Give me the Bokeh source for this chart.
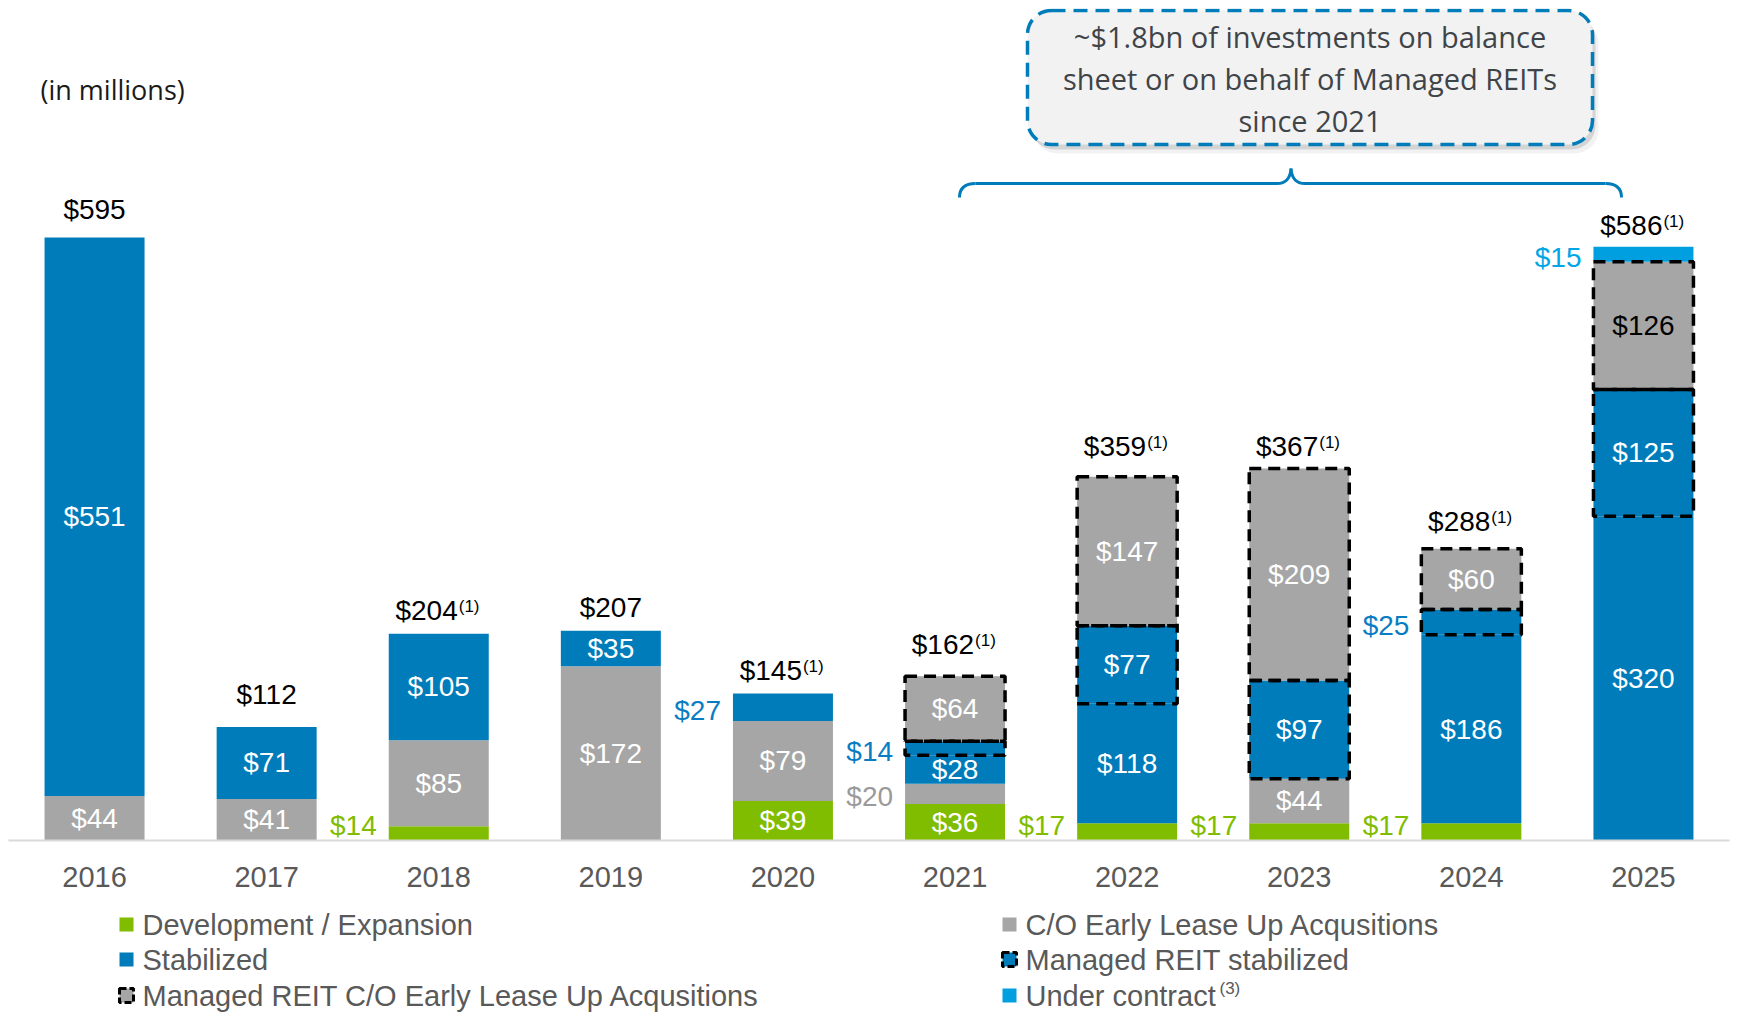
from bokeh.plotting import figure
from bokeh.models import Range1d, FixedTicker, BoxAnnotation, ColumnDataSource
from bokeh.layouts import column
from bokeh.core.properties import value
from bokeh.embed import file_html
from bokeh.resources import INLINE

# ---------------- data ----------------
years = ["2016", "2017", "2018", "2019", "2020", "2021", "2022", "2023", "2024", "2025"]
development = [0, 0, 14, 0, 39, 36, 17, 17, 17, 0]
co_early_lease_up = [44, 41, 85, 172, 79, 20, 0, 44, 0, 0]
stabilized = [551, 71, 105, 35, 27, 28, 118, 0, 186, 320]
managed_reit_stabilized = [0, 0, 0, 0, 0, 14, 77, 97, 25, 125]
managed_reit_co = [0, 0, 0, 0, 0, 64, 147, 209, 60, 126]
under_contract = [0, 0, 0, 0, 0, 0, 0, 0, 0, 15]
totals = [595, 112, 204, 207, 145, 162, 359, 367, 288, 586]
total_notes = ["", "", "(1)", "", "(1)", "(1)", "(1)", "(1)", "(1)", "(1)"]

legend_col1 = ["Development / Expansion", "Stabilized", "Managed REIT C/O Early Lease Up Acqusitions"]
legend_col2 = ["C/O Early Lease Up Acqusitions", "Managed REIT stabilized", "Under contract"]
callout_lines = ["~$1.8bn of investments on balance", "sheet or on behalf of Managed REITs", "since 2021"]
unit_note = "(in millions)"

# ---------------- style ----------------
GREEN = "#80BC00"
GRAY = "#A6A6A6"
BLUE = "#007CBA"
LBLUE = "#00A0E0"
LBL_BLUE = "#0A7DC2"
LBL_GRAY = "#9A9A9A"
LBL_LBLUE = "#00A6E6"
TXT = "#595959"
FONT = "Liberation Sans"

series = [
    ("dev", development, GREEN, False, GREEN),
    ("co", co_early_lease_up, GRAY, False, LBL_GRAY),
    ("stab", stabilized, BLUE, False, LBL_BLUE),
    ("mstab", managed_reit_stabilized, BLUE, True, LBL_BLUE),
    ("mco", managed_reit_co, GRAY, True, LBL_GRAY),
    ("uc", under_contract, LBLUE, False, LBL_LBLUE),
]
outside = {("2018", "dev"), ("2020", "stab"), ("2021", "co"), ("2021", "mstab"),
           ("2022", "dev"), ("2023", "dev"), ("2024", "dev"), ("2024", "mstab"),
           ("2025", "uc")}
dark_inside = {("2025", "mco")}
total_gap = [28, 32, 23, 23, 23, 32, 30, 22, 27, 21]

PAGE_W = 1737
PAD = 8
FRAME_W = PAGE_W - 2 * PAD
FRAME_H = 832
BOTTOM = 66
Y_END = 821.0
FX = FRAME_W / 10.0
FY = FRAME_H / Y_END
BAR_W = 100 / FX
MAIN_H = PAD + FRAME_H + BOTTOM
LEG_H = 1020 - MAIN_H - 2


def px_x(page_x):
    return (page_x - PAD) / FX - 0.5


def px_y(page_y):
    return (PAD + FRAME_H - page_y) / FY


p = figure(width=PAGE_W, height=MAIN_H, x_range=Range1d(-0.5, 9.5),
           y_range=Range1d(0, Y_END), output_backend="svg", toolbar_location=None,
           y_axis_location=None, min_border_left=PAD, min_border_right=PAD,
           min_border_top=PAD, min_border_bottom=BOTTOM)
p.outline_line_color = None
p.grid.visible = False
p.background_fill_color = "white"

xs = list(range(len(years)))
bottoms = [0] * len(years)
fills = []
for key, vals, color, dashed, lcolor in series:
    bot = bottoms[:]
    top = [b + v for b, v in zip(bot, vals)]
    idx = [i for i, v in enumerate(vals) if v > 0]
    src = ColumnDataSource(dict(x=[xs[i] for i in idx], bottom=[bot[i] for i in idx],
                                top=[top[i] for i in idx]))
    p.vbar(x="x", bottom="bottom", top="top", width=BAR_W, source=src,
           fill_color=color, line_color=None)
    fills.append((key, vals, bot, top, dashed, lcolor, src))
    bottoms = top

for key, vals, bot, top, dashed, lcolor, src in fills:
    if dashed:
        p.vbar(x="x", bottom="bottom", top="top", width=BAR_W, source=src,
               fill_color=None, line_color="black", line_width=3.5, line_dash="12 7")

# segment labels
in_x, in_y, in_t, in_c = [], [], [], []
out_x, out_y, out_t, out_c = [], [], [], []
for key, vals, bot, top, dashed, lcolor, src in fills:
    for i, v in enumerate(vals):
        if v <= 0:
            continue
        mid = (bot[i] + top[i]) / 2.0
        if (years[i], key) in outside:
            out_x.append(i - BAR_W / 2)
            out_y.append(max(mid - 3, 14.5))
            out_t.append(f"${v}")
            out_c.append(lcolor)
        else:
            in_x.append(i)
            in_y.append(mid)
            in_t.append(f"${v}")
            in_c.append("black" if (years[i], key) in dark_inside else "white")

p.text(x="x", y="y", text="t", text_color="c",
       source=ColumnDataSource(dict(x=in_x, y=in_y, t=in_t, c=in_c)),
       text_font=value(FONT), text_font_size="28px", text_align="center",
       text_baseline="middle")
p.text(x="x", y="y", text="t", text_color="c", x_offset=-12,
       source=ColumnDataSource(dict(x=out_x, y=out_y, t=out_t, c=out_c)),
       text_font=value(FONT), text_font_size="28px", text_align="right",
       text_baseline="middle")

# totals
plain = dict(x=[], y=[], t=[], g=[])
noted = dict(x=[], y=[], t=[], n=[], g=[])
for i, (tot, note) in enumerate(zip(totals, total_notes)):
    if note:
        noted["x"].append(i); noted["y"].append(tot); noted["t"].append(f"${tot}")
        noted["n"].append(note); noted["g"].append(-total_gap[i])
    else:
        plain["x"].append(i); plain["y"].append(tot); plain["t"].append(f"${tot}")
        plain["g"].append(-total_gap[i])
p.text(x="x", y="y", text="t", y_offset="g", source=ColumnDataSource(plain),
       text_font=value(FONT), text_font_size="28px", text_align="center",
       text_baseline="middle", text_color="black")
nsrc = ColumnDataSource(noted)
p.text(x="x", y="y", text="t", y_offset="g", x_offset=19, source=nsrc,
       text_font=value(FONT), text_font_size="28px", text_align="right",
       text_baseline="middle", text_color="black")
nsrc2 = ColumnDataSource(dict(x=noted["x"], y=noted["y"], n=noted["n"],
                              g=[g - 4 for g in noted["g"]]))
p.text(x="x", y="y", text="n", y_offset="g", x_offset=20, source=nsrc2,
       text_font=value(FONT), text_font_size="17px", text_align="left",
       text_baseline="middle", text_color="black")

# unit note
p.text(x=[px_x(40)], y=[px_y(89)], text=[unit_note], text_font=value("Open Sans"),
       text_font_size="27px", text_align="left", text_baseline="middle",
       text_color="#1A1A1A")

# callout box with shadow
for dxp, dyp, alpha in [(6, 9, 0.05), (3, 5, 0.12)]:
    p.add_layout(BoxAnnotation(left=px_x(1027 + dxp), right=px_x(1592 + dxp),
                               top=px_y(10 + dyp), bottom=px_y(144 + dyp),
                               fill_color="black", fill_alpha=alpha, line_color=None,
                               border_radius=24, level="underlay"))
p.add_layout(BoxAnnotation(left=px_x(1027), right=px_x(1592), top=px_y(10),
                           bottom=px_y(144), fill_color="#F2F2F2", fill_alpha=1.0,
                           line_color=BLUE, line_alpha=1.0, line_width=3.5,
                           line_dash="14 8", border_radius=24, level="underlay"))
p.text(x=[px_x(1309.5)] * 3, y=[px_y(36), px_y(78), px_y(120)], text=callout_lines,
       text_font=value("Open Sans"), text_font_size="29px", text_align="center",
       text_baseline="middle", text_color="#3F4449")

# brace
BY, BT, BL, BR, BM = 183, 197, 959, 1621, 1290.5
p.segment(x0=[px_x(BL + 16), px_x(BM + 14)], y0=[px_y(BY)] * 2,
          x1=[px_x(BM - 14), px_x(BR - 16)], y1=[px_y(BY)] * 2,
          line_color=BLUE, line_width=3)
p.quadratic(x0=[px_x(BL), px_x(BR), px_x(BM - 14), px_x(BM + 14)],
            y0=[px_y(BT), px_y(BT), px_y(BY), px_y(BY)],
            x1=[px_x(BL + 16), px_x(BR - 16), px_x(BM), px_x(BM)],
            y1=[px_y(BY), px_y(BY), px_y(168), px_y(168)],
            cx=[px_x(BL), px_x(BR), px_x(BM - 1), px_x(BM + 1)],
            cy=[px_y(BY), px_y(BY), px_y(BY), px_y(BY)],
            line_color=BLUE, line_width=3)

# axis
ax = p.xaxis[0]
ax.ticker = FixedTicker(ticks=xs)
ax.major_label_overrides = {i: y for i, y in enumerate(years)}
ax.major_label_text_font = FONT
ax.major_label_text_font_size = "29px"
ax.major_label_text_color = TXT
ax.major_label_standoff = 20
ax.major_tick_line_color = None
ax.minor_tick_line_color = None
ax.axis_line_color = "#D9D9D9"
ax.axis_line_width = 2

# ---------------- legend figure (data units = page pixels) ----------------
lg = figure(width=PAGE_W, height=LEG_H, x_range=Range1d(PAD, PAGE_W - PAD),
            y_range=Range1d(MAIN_H + LEG_H, MAIN_H),
            output_backend="svg", toolbar_location=None, x_axis_location=None,
            y_axis_location=None, min_border_left=PAD, min_border_right=PAD,
            min_border_top=0, min_border_bottom=0)
lg.outline_line_color = None
lg.grid.visible = False

rows = [924, 959, 995]
c1_sq, c1_tx = 126, 142
c2_sq, c2_tx = 1009, 1025
col1_colors = [GREEN, BLUE, GRAY]
col1_dash = [False, False, True]
col2_colors = [GRAY, BLUE, LBLUE]
col2_dash = [False, True, False]

for sq, colors, dashes in [(c1_sq, col1_colors, col1_dash), (c2_sq, col2_colors, col2_dash)]:
    for r, c, d in zip(rows, colors, dashes):
        if d:
            lg.rect(x=[sq], y=[r], width=14, height=14, width_units="screen",
                    height_units="screen", fill_color=c, line_color="black",
                    line_width=3, line_dash="7 3")
        else:
            lg.rect(x=[sq], y=[r], width=14, height=14, width_units="screen",
                    height_units="screen", fill_color=c, line_color=None)

lg.text(x=[c1_tx] * 3, y=rows, text=legend_col1, text_font=value(FONT),
        text_font_size="29px", text_align="left", text_baseline="middle", text_color=TXT)
lg.text(x=[c2_tx] * 3, y=rows, text=legend_col2, text_font=value(FONT),
        text_font_size="29px", text_align="left", text_baseline="middle", text_color=TXT)
lg.text(x=[1219], y=[rows[2] - 7], text=["(3)"], text_font=value(FONT),
        text_font_size="17px", text_align="left", text_baseline="middle", text_color=TXT)

layout = column(p, lg, spacing=0)
open("out.html", "w").write(file_html(layout, INLINE))
